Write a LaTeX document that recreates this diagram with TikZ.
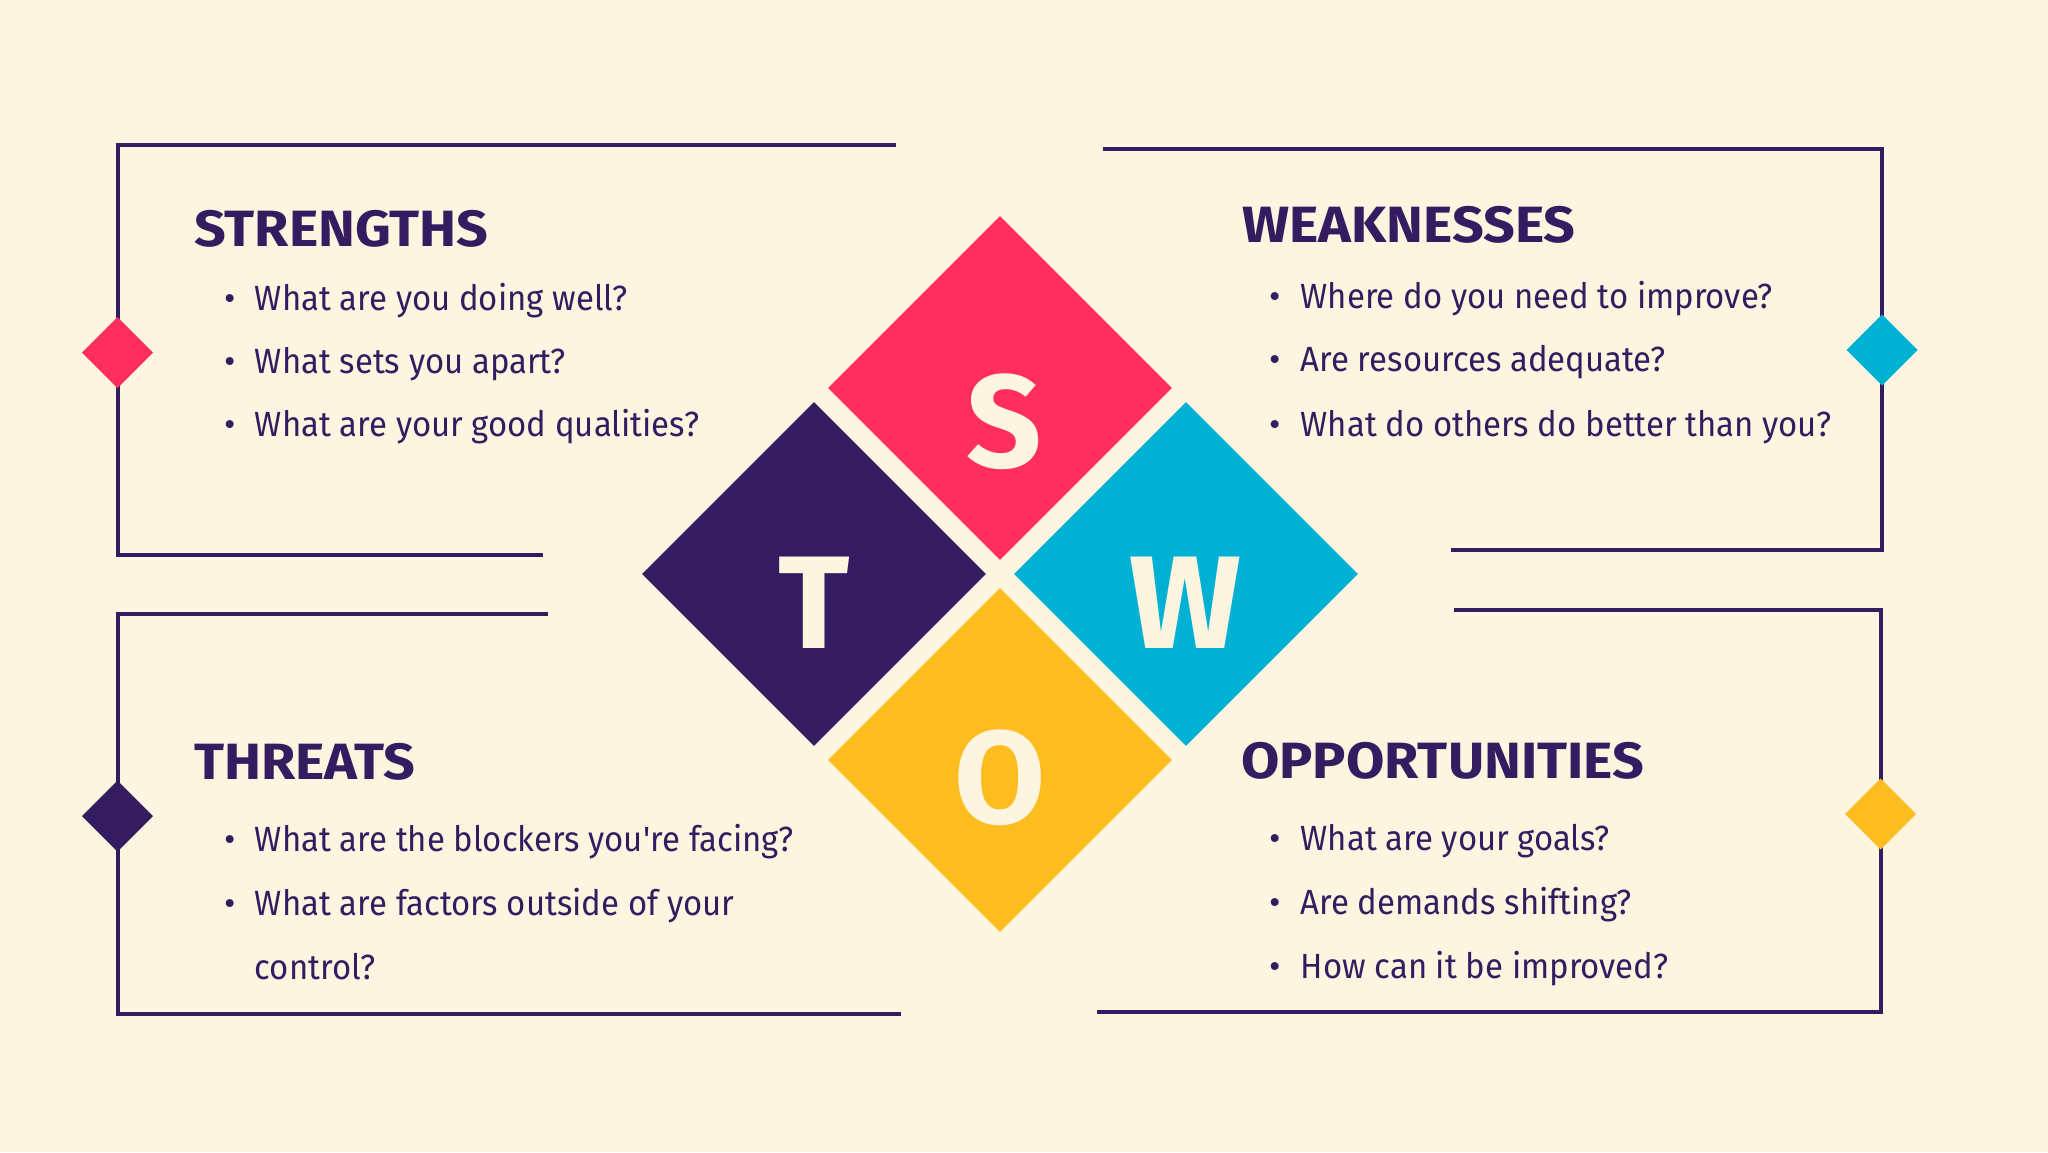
\documentclass[tikz,border=0pt]{standalone}
\usepackage{fontspec}
\setmainfont{Fira Sans}
\newfontfamily\bodyfont[FakeStretch=0.94]{Fira Sans}
\newfontfamily\headfont[FakeStretch=1.09]{Fira Sans}
\definecolor{bg}{HTML}{FEF5E0}
\definecolor{pinkc}{HTML}{FF2E5F}
\definecolor{purp}{HTML}{351C61}
\definecolor{cyanc}{HTML}{00B1D3}
\definecolor{yell}{HTML}{FDBD21}
\begin{document}
\begin{tikzpicture}[x=1pt,y=-1pt,
  frame/.style={draw=purp,line width=4pt,line join=miter},
  bigsq/.style={rotate=45,minimum size=243.2pt,inner sep=0pt,outer sep=0pt,draw=none},
  smallsq/.style={rotate=45,minimum size=50.2pt,inner sep=0pt,outer sep=0pt,draw=none},
  letter/.style={anchor=base,text=bg,inner sep=0pt,font=\fontsize{132}{132}\selectfont\bfseries},
  head/.style={anchor=base west,text=purp,inner sep=0pt,font=\headfont\fontsize{51}{51}\selectfont\bfseries},
  item/.style={anchor=base west,text=purp,inner sep=0pt,font=\bodyfont\fontsize{35}{35}\selectfont},
  bul/.style={anchor=base,text=purp,inner sep=0pt,font=\fontsize{35}{35}\selectfont}]
\fill[bg] (0,0) rectangle (2048,1152);
\useasboundingbox (0,0) rectangle (2048,1152);
% frames
\draw[frame] (896,145) -- (117.5,145) -- (117.5,555) -- (543,555);
\draw[frame] (1103,149) -- (1882,149) -- (1882,550) -- (1451,550);
\draw[frame] (548,614) -- (117.5,614) -- (117.5,1013.5) -- (901,1013.5);
\draw[frame] (1453.5,610) -- (1880.5,610) -- (1880.5,1012) -- (1097,1012);
% small diamonds
\node[smallsq,fill=pinkc] (ds) at (117.5,352.7) {};
\node[smallsq,fill=cyanc] (dw) at (1882,350) {};
\node[smallsq,fill=purp] (dt) at (117.5,816) {};
\node[smallsq,fill=yell] (do) at (1880.5,814) {};
% big diamonds
\node[bigsq,fill=pinkc] (S) at (1000,388) {};
\node[bigsq,fill=purp] (T) at (814,574) {};
\node[bigsq,fill=cyanc] (W) at (1186,574) {};
\node[bigsq,fill=yell] (O) at (1000,760) {};
\node[letter] (lS) at (1004,467) {S};
\node[letter] (lT) at (814,648) {T};
\node[letter] (lW) at (1185,648) {W};
\node[letter] (lO) at (1000,823) {O};
% headings
\node[head] (hS) at (194,246) {STRENGTHS};
\node[head] (hW) at (1242,242.7) {WEAKNESSES};
\node[head] (hT) at (194,779.3) {THREATS};
\node[head] (hO) at (1241,778.3) {OPPORTUNITIES};
% strengths items
\node[bul] (bS1) at (230,310.7) {•};
\node[item] (iS1) at (254.7,310.7) {What are you doing well?};
\node[bul] (bS2) at (230,373.7) {•};
\node[item] (iS2) at (254.7,373.7) {What sets you apart?};
\node[bul] (bS3) at (230,436.7) {•};
\node[item] (iS3) at (254.7,436.7) {What are your good qualities?};
% weaknesses items
\node[bul] (bW1) at (1275,308.3) {•};
\node[item] (iW1) at (1300.6,308.3) {Where do you need to improve?};
\node[bul] (bW2) at (1275,371.7) {•};
\node[item] (iW2) at (1300.6,371.7) {Are resources adequate?};
\node[bul] (bW3) at (1275,436.7) {•};
\node[item] (iW3) at (1300.6,436.7) {What do others do better than you?};
% threats items
\node[bul] (bT1) at (230,851.7) {•};
\node[item] (iT1) at (254.7,851.7) {What are the blockers you\textquotesingle re facing?};
\node[bul] (bT2) at (230,915) {•};
\node[item] (iT2) at (254.7,915) {What are factors outside of your};
\node[item] (iT3) at (254.7,979.3) {control?};
% opportunities items
\node[bul] (bO1) at (1275,850.7) {•};
\node[item] (iO1) at (1300.6,850.7) {What are your goals?};
\node[bul] (bO2) at (1275,914.3) {•};
\node[item] (iO2) at (1300.6,914.3) {Are demands shifting?};
\node[bul] (bO3) at (1275,978.3) {•};
\node[item] (iO3) at (1300.6,978.3) {How can it be improved?};
\end{tikzpicture}
\end{document}
